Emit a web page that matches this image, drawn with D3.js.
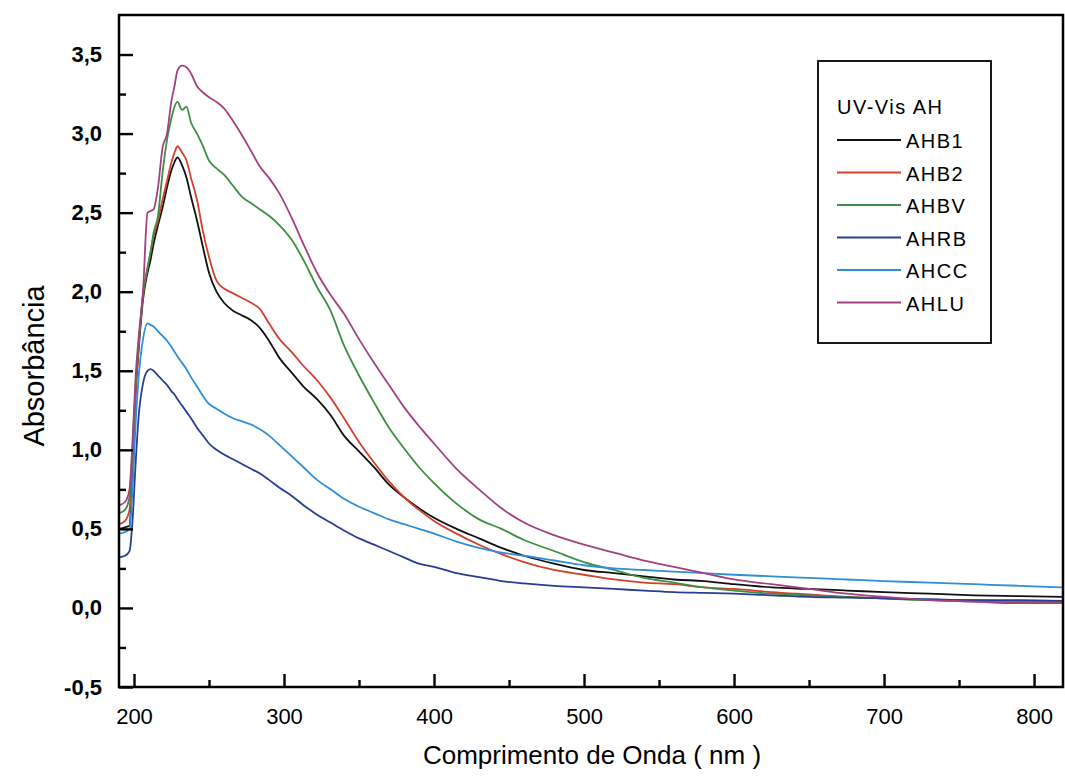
<!DOCTYPE html>
<html>
<head>
<meta charset="utf-8">
<script src="https://cdn.jsdelivr.net/npm/d3@7"></script>
<style>
  body { margin: 0; background: #fff; }
  svg { display: block; font-family: "Liberation Sans", Arial, sans-serif; }
</style>
</head>
<body>
<div id="container"></div>
<script>
// wavelength grid (nm) shared by all spectra
var wavelengths = [190, 194, 197, 199, 201, 203, 206, 209, 211, 213, 216, 219, 222, 225, 227, 229, 232, 235, 238, 242,
  246, 250, 255, 260, 266, 272, 278, 284, 290, 297, 305, 313, 322, 331, 340, 350, 360, 370, 380, 390,
  400, 415, 430, 445, 460, 480, 500, 520, 540, 560, 580, 600, 625, 650, 675, 700, 730, 760, 790, 819];

var ahb1 = [0.50, 0.51, 0.52, 0.90, 1.35, 1.62, 1.95, 2.12, 2.20, 2.30, 2.42, 2.53, 2.66, 2.77, 2.82, 2.85, 2.80, 2.72, 2.60, 2.45,
  2.28, 2.12, 2.00, 1.93, 1.88, 1.85, 1.82, 1.77, 1.69, 1.58, 1.49, 1.40, 1.32, 1.22, 1.09, 0.99, 0.89, 0.78, 0.70, 0.63,
  0.57, 0.50, 0.44, 0.38, 0.33, 0.28, 0.24, 0.22, 0.20, 0.18, 0.17, 0.15, 0.13, 0.12, 0.11, 0.10, 0.09, 0.08, 0.075, 0.07];

var ahb2 = [0.53, 0.55, 0.62, 0.95, 1.35, 1.65, 1.98, 2.15, 2.25, 2.35, 2.45, 2.58, 2.70, 2.82, 2.88, 2.92, 2.88, 2.83, 2.72, 2.58,
  2.38, 2.22, 2.07, 2.02, 1.99, 1.96, 1.93, 1.89, 1.80, 1.70, 1.62, 1.53, 1.44, 1.33, 1.20, 1.05, 0.92, 0.80, 0.70, 0.62,
  0.55, 0.47, 0.40, 0.34, 0.29, 0.24, 0.21, 0.18, 0.16, 0.15, 0.13, 0.12, 0.10, 0.085, 0.07, 0.06, 0.05, 0.04, 0.035, 0.03];

var ahbv = [0.60, 0.62, 0.70, 1.00, 1.40, 1.65, 1.98, 2.15, 2.25, 2.37, 2.48, 2.75, 2.96, 3.10, 3.17, 3.20, 3.15, 3.17, 3.07, 3.00,
  2.92, 2.83, 2.78, 2.74, 2.67, 2.60, 2.56, 2.52, 2.48, 2.42, 2.33, 2.20, 2.03, 1.88, 1.66, 1.47, 1.30, 1.14, 1.01, 0.89,
  0.79, 0.66, 0.56, 0.50, 0.43, 0.36, 0.29, 0.24, 0.19, 0.16, 0.13, 0.11, 0.09, 0.08, 0.07, 0.06, 0.05, 0.05, 0.04, 0.04];

var ahrb = [0.32, 0.33, 0.36, 0.55, 0.90, 1.20, 1.42, 1.50, 1.51, 1.50, 1.47, 1.44, 1.41, 1.37, 1.35, 1.32, 1.28, 1.24, 1.20, 1.14,
  1.09, 1.04, 1.00, 0.97, 0.94, 0.91, 0.88, 0.85, 0.81, 0.76, 0.71, 0.65, 0.59, 0.54, 0.49, 0.44, 0.40, 0.36, 0.32, 0.28,
  0.26, 0.22, 0.195, 0.17, 0.155, 0.14, 0.13, 0.12, 0.11, 0.10, 0.095, 0.09, 0.08, 0.07, 0.065, 0.06, 0.055, 0.05, 0.05, 0.045];

var ahcc = [0.47, 0.48, 0.50, 0.75, 1.15, 1.45, 1.70, 1.80, 1.79, 1.78, 1.75, 1.72, 1.69, 1.65, 1.62, 1.59, 1.55, 1.51, 1.46, 1.40,
  1.34, 1.29, 1.26, 1.23, 1.20, 1.18, 1.16, 1.13, 1.09, 1.03, 0.96, 0.89, 0.81, 0.75, 0.69, 0.64, 0.60, 0.56, 0.53, 0.50,
  0.47, 0.42, 0.38, 0.35, 0.33, 0.30, 0.27, 0.25, 0.24, 0.23, 0.22, 0.21, 0.20, 0.19, 0.18, 0.17, 0.16, 0.15, 0.14, 0.13];

var ahlu = [0.65, 0.67, 0.75, 1.05, 1.45, 1.70, 2.00, 2.50, 2.51, 2.52, 2.66, 2.91, 3.00, 3.21, 3.30, 3.40, 3.43, 3.42, 3.38, 3.30,
  3.26, 3.23, 3.20, 3.16, 3.08, 2.99, 2.89, 2.79, 2.72, 2.62, 2.47, 2.30, 2.12, 1.98, 1.86, 1.70, 1.55, 1.41, 1.27, 1.15,
  1.04, 0.88, 0.75, 0.63, 0.54, 0.46, 0.40, 0.35, 0.30, 0.26, 0.22, 0.18, 0.15, 0.12, 0.09, 0.07, 0.05, 0.04, 0.03, 0.03];

var seriesNames = ["AHB1", "AHB2", "AHBV", "AHRB", "AHCC", "AHLU"];
var seriesValues = [ahb1, ahb2, ahbv, ahrb, ahcc, ahlu];
var seriesColors = ["#111111", "#d2412b", "#3c8f43", "#283e94", "#2f8fd6", "#a4407f"];

var legendTitle = "UV-Vis AH";
var xTitle = "Comprimento de Onda ( nm )";
var yTitle = "Absorbância";

var xMajorTicks = [200, 300, 400, 500, 600, 700, 800];
var xMinorTicks = [250, 350, 450, 550, 650, 750];
var yMajorTicks = [-0.5, 0, 0.5, 1.0, 1.5, 2.0, 2.5, 3.0, 3.5];
var yMinorTicks = [-0.25, 0.25, 0.75, 1.25, 1.75, 2.25, 2.75, 3.25];

var width = 1065, height = 780;
var frame = { left: 119, top: 15, right: 1063, bottom: 687 };

var svg = d3.select("#container")
  .append("svg")
  .attr("width", width)
  .attr("height", height);

var x = d3.scaleLinear().domain([190, 819.3]).range([frame.left, frame.right]);
var y = d3.scaleLinear().domain([-0.5, 3.75]).range([frame.bottom, frame.top]);

// comma decimals, plain hyphen for negatives
var fmt = function (d) { return d3.format(".1f")(d).replace(".", ",").replace("\u2212", "-"); };

// curves
var line = d3.line()
  .x(function (d) { return x(d[0]); })
  .y(function (d) { return y(d[1]); })
  .curve(d3.curveMonotoneX);

var plot = svg.append("g");
plot.append("clipPath").attr("id", "clip")
  .append("rect")
  .attr("x", frame.left).attr("y", frame.top)
  .attr("width", frame.right - frame.left).attr("height", frame.bottom - frame.top);

seriesValues.forEach(function (vals, i) {
  var pts = wavelengths.map(function (w, j) { return [w, vals[j]]; });
  plot.append("path")
    .datum(pts)
    .attr("clip-path", "url(#clip)")
    .attr("fill", "none")
    .attr("stroke", seriesColors[i])
    .attr("stroke-width", 1.8)
    .attr("stroke-linejoin", "round")
    .attr("d", line);
});

// axes: ticks point inward, labels outside
var xAxis = d3.axisBottom(x).tickValues(xMajorTicks).tickSize(-13).tickPadding(21).tickFormat(d3.format("d"));
var xAxisMinor = d3.axisBottom(x).tickValues(xMinorTicks).tickSize(-7).tickFormat("");
var yAxis = d3.axisLeft(y).tickValues(yMajorTicks).tickSize(-14).tickPadding(17).tickFormat(fmt);
var yAxisMinor = d3.axisLeft(y).tickValues(yMinorTicks).tickSize(-7).tickFormat("");

function styleAxis(g) {
  g.select(".domain").remove();
  g.selectAll(".tick line").attr("stroke", "#000").attr("stroke-width", 2.4);
}

svg.append("g").attr("transform", "translate(0," + frame.bottom + ")").call(xAxis).call(styleAxis)
  .selectAll("text").attr("font-size", 22).attr("font-family", "Liberation Sans, Arial").attr("fill", "#000");
svg.append("g").attr("transform", "translate(0," + frame.bottom + ")").call(xAxisMinor).call(styleAxis);
svg.append("g").attr("transform", "translate(" + frame.left + ",0)").call(yAxis).call(styleAxis)
  .selectAll("text").attr("font-size", 22).attr("font-weight", "bold").attr("font-family", "Liberation Sans, Arial").attr("fill", "#000");
svg.append("g").attr("transform", "translate(" + frame.left + ",0)").call(yAxisMinor).call(styleAxis);

// frame
svg.append("rect")
  .attr("x", frame.left).attr("y", frame.top)
  .attr("width", frame.right - frame.left).attr("height", frame.bottom - frame.top)
  .attr("fill", "none").attr("stroke", "#000").attr("stroke-width", 2.5);

// titles
svg.append("text")
  .attr("x", 592).attr("y", 764)
  .attr("text-anchor", "middle")
  .attr("font-size", 26)
  .text(xTitle);

svg.append("text")
  .attr("transform", "translate(44,366) rotate(-90)")
  .attr("text-anchor", "middle")
  .attr("font-size", 29)
  .text(yTitle);

// legend
var legend = svg.append("g");
legend.append("rect")
  .attr("x", 818).attr("y", 61).attr("width", 173).attr("height", 282)
  .attr("fill", "#fff").attr("stroke", "#000").attr("stroke-width", 1.8);
legend.append("text")
  .attr("x", 837).attr("y", 114)
  .attr("font-size", 20)
  .attr("letter-spacing", 1.5)
  .text(legendTitle);

var legendRows = legend.selectAll("g.row")
  .data(seriesNames)
  .enter().append("g")
  .attr("class", "row")
  .attr("transform", function (d, i) { return "translate(0," + (140 + i * 32.5) + ")"; });
legendRows.append("line")
  .attr("x1", 837).attr("x2", 901)
  .attr("stroke", function (d, i) { return seriesColors[i]; })
  .attr("stroke-width", 1.8);
legendRows.append("text")
  .attr("x", 906).attr("y", 8)
  .attr("font-size", 20)
  .attr("letter-spacing", 1.5)
  .text(function (d) { return d; });
</script>
</body>
</html>
